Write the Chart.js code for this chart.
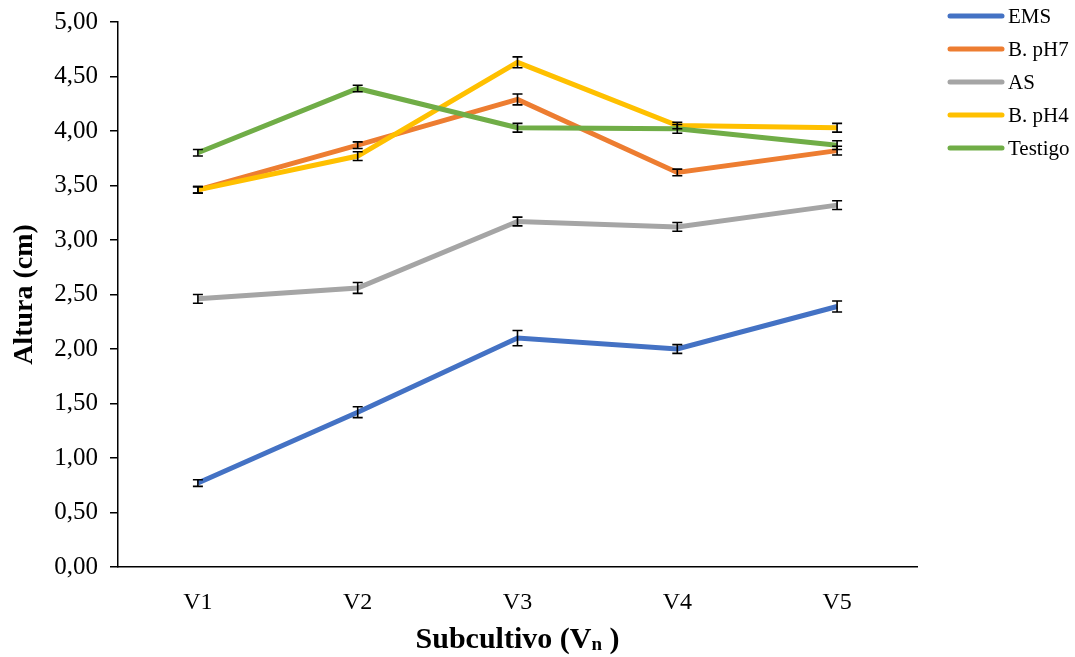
<!DOCTYPE html>
<html>
<head>
<meta charset="utf-8">
<script src="https://cdn.jsdelivr.net/npm/chart.js@4"></script>
<style>
  html, body { margin: 0; padding: 0; background: #fff; }
  #wrap { width: 1075px; height: 657px; position: relative; }
</style>
</head>
<body>
<div id="wrap"><canvas id="chart"></canvas></div>
<script>
const labels = ['V1', 'V2', 'V3', 'V4', 'V5'];
const seriesNames = ['EMS', 'B. pH7', 'AS', 'B. pH4', 'Testigo'];
const seriesColors = ['#4472C4', '#ED7D31', '#A5A5A5', '#FFC000', '#70AD47'];

const ems = [0.77, 1.42, 2.10, 2.00, 2.39];
const bph7 = [3.46, 3.87, 4.29, 3.62, 3.82];
const as = [2.46, 2.56, 3.17, 3.12, 3.32];
const bph4 = [3.46, 3.77, 4.63, 4.05, 4.03];
const testigo = [3.80, 4.39, 4.03, 4.02, 3.87];

// error bar half-widths (same units as values)
const emsErr = [0.03, 0.05, 0.07, 0.04, 0.05];
const bph7Err = [0.03, 0.03, 0.05, 0.03, 0.04];
const asErr = [0.04, 0.05, 0.04, 0.04, 0.04];
const bph4Err = [0.03, 0.04, 0.05, 0.03, 0.04];
const testigoErr = [0.03, 0.03, 0.04, 0.04, 0.04];

const values = [ems, bph7, as, bph4, testigo];
const errors = [emsErr, bph7Err, asErr, bph4Err, testigoErr];

const serif = "'Liberation Serif', 'Times New Roman', serif";

const errorBars = {
  id: 'errorBars',
  afterDatasetsDraw(chart) {
    const { ctx, scales: { x, y } } = chart;
    ctx.save();
    ctx.strokeStyle = '#000';
    ctx.lineWidth = 1.6;
    chart.data.datasets.forEach((ds, i) => {
      ds.data.forEach((v, j) => {
        const e = errors[i][j];
        const px = x.getPixelForValue(j);
        const top = y.getPixelForValue(v + e);
        const bot = y.getPixelForValue(v - e);
        ctx.beginPath();
        ctx.moveTo(px, top); ctx.lineTo(px, bot);
        ctx.moveTo(px - 5, top); ctx.lineTo(px + 5, top);
        ctx.moveTo(px - 5, bot); ctx.lineTo(px + 5, bot);
        ctx.stroke();
      });
    });
    ctx.restore();
  }
};

const sideLegend = {
  id: 'sideLegend',
  afterDraw(chart) {
    const { ctx } = chart;
    ctx.save();
    ctx.font = `21px ${serif}`;
    ctx.textBaseline = 'middle';
    ctx.fillStyle = '#000';
    chart.data.datasets.forEach((ds, i) => {
      const yy = 16 + i * 33;
      ctx.strokeStyle = ds.borderColor;
      ctx.lineWidth = 5;
      ctx.lineCap = 'round';
      ctx.beginPath();
      ctx.moveTo(950, yy); ctx.lineTo(1002, yy);
      ctx.stroke();
      ctx.fillText(ds.label, 1008, yy + 1);
    });
    ctx.restore();
  }
};

const xTitle = {
  id: 'xTitle',
  afterDraw(chart) {
    const { ctx, chartArea } = chart;
    const big = `bold 30px ${serif}`;
    const small = `bold 19px ${serif}`;
    const parts = [['Subcultivo (V', big, 0], ['n', small, 2], [' )', big, 0]];
    ctx.save();
    ctx.fillStyle = '#000';
    ctx.textBaseline = 'alphabetic';
    let total = 0;
    parts.forEach(p => { ctx.font = p[1]; total += ctx.measureText(p[0]).width; });
    let xx = (chartArea.left + chartArea.right) / 2 - total / 2;
    parts.forEach(p => {
      ctx.font = p[1];
      ctx.fillText(p[0], xx, 648 + p[2]);
      xx += ctx.measureText(p[0]).width;
    });
    ctx.restore();
  }
};

new Chart(document.getElementById('chart'), {
  type: 'line',
  data: {
    labels: labels,
    datasets: seriesNames.map((name, i) => ({
      label: name,
      data: values[i],
      borderColor: seriesColors[i],
      backgroundColor: seriesColors[i],
      borderWidth: 5,
      pointRadius: 0,
      tension: 0,
      fill: false,
      order: seriesNames.length - i
    }))
  },
  options: {
    responsive: true,
    maintainAspectRatio: false,
    animation: false,
    layout: { padding: { top: 22, right: 158, left: 0, bottom: 0 } },
    plugins: {
      legend: { display: false },
      tooltip: { enabled: false }
    },
    scales: {
      x: {
        offset: true,
        grid: { display: false },
        border: { display: true, color: '#000', width: 1.5 },
        ticks: { color: '#000', font: { family: serif, size: 24 }, padding: 13 },
        afterFit: s => { s.height = 90; }
      },
      y: {
        min: 0,
        max: 5,
        grid: { drawOnChartArea: false, drawTicks: true, tickLength: 8, color: '#000', lineWidth: 1.5 },
        border: { display: true, color: '#000', width: 1.5 },
        ticks: {
          stepSize: 0.5,
          color: '#000',
          padding: 12,
          font: { family: serif, size: 25 },
          callback: v => v.toFixed(2).replace('.', ',')
        },
        title: {
          display: true,
          text: 'Altura (cm)',
          color: '#000',
          font: { family: serif, size: 28, weight: 'bold' },
          padding: { top: 8, bottom: 0 }
        },
        afterFit: s => { s.width = 118; s.paddingTop = 0; s.paddingBottom = 0; }
      }
    }
  },
  plugins: [errorBars, sideLegend, xTitle]
});
</script>
</body>
</html>
